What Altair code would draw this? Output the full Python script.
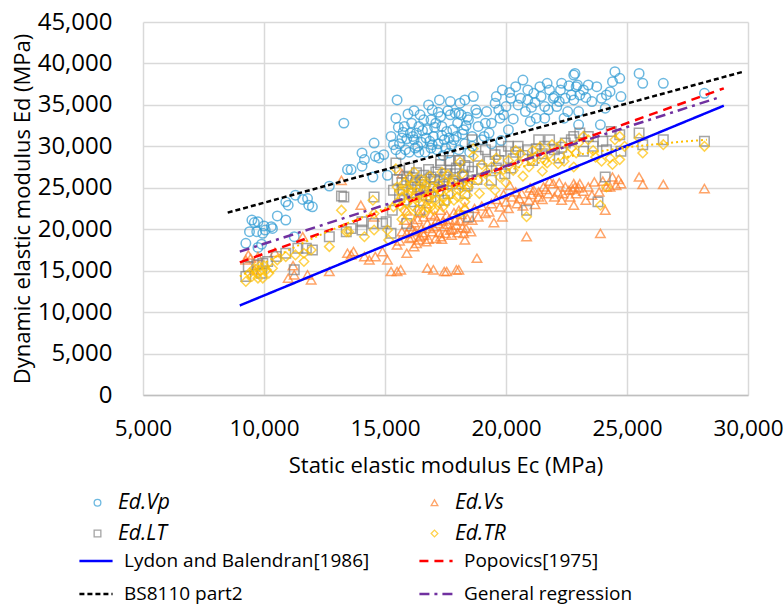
import altair as alt
import pandas as pd

# ---------------- data ----------------
VP = [(9500,21100),(9750,20900),(10000,20400),(10300,20300),(9400,19700),(9700,19700),(9950,19500),(9250,18300),
      (9750,17800),(9900,18200),(10350,20100),(10900,21100),(10550,21600),(11250,19100),(10900,23300),(11000,22900),
      (11300,24100),(11600,23600),(11800,23700),(11850,22900),(12000,22700),(12700,25200),(13450,27200),(13600,27200),
      (13300,32800),(10050,19900),(9600,20800),
      (14050,29200),(14150,28400),(14050,27600),(14550,30400),(14600,28800),(14500,26300),(14750,28600),(14950,29000),
      (15100,26500),(15250,31200),(15450,29600),(15500,35600),(15450,33400),(15800,32400),(15700,31000),(15850,29600),
      (16050,31600),(16200,30800),(16350,30000),(16600,33200),(16800,35000),(16750,32000),(16950,34400),(17000,31200),
      (17150,29600),(17300,33600),(17350,32400),(17450,30800),(17550,31800),(17700,35400),(17700,33800),(17650,29200),
      (17850,30800),(18000,32800),(18050,29600),(18100,35200),
      (15600,30300),(15900,30900),(16000,29300),(16100,32800),(16300,31600),(16400,29300),(16500,30500),(16700,31000),
      (16900,29800),(16900,33200),(17100,32800),(17200,30300),(17500,29800),(17600,34300),(17800,32000),(17900,34000),
      (18200,31500),(18300,30300),(18400,33500),(18600,30000),(18800,34000),(16200,34300),(16450,33800),(15350,30200),
      (15950,33900),(17250,35600),(18500,29300),(15650,29000),(16650,29300),(17400,28900),
      (15750,31700),(16150,31200),(16550,31900),(16850,30600),(17050,32300),(17350,31300),(17650,31000),(17950,31200),
      (16250,29800),(16950,30200),(17750,30100),(18350,32500),(15550,32300),(16400,32400),(17200,34100),(18150,33800),
      (18050,34000),(18250,32000),(18450,33200),(18650,36000),(18750,34400),(18600,31200),(18850,32400),(19000,30800),
      (19150,32800),(19300,31600),(19400,32800),(19550,35200),(19600,36000),(19750,33400),(19850,36800),(19700,34400),
      (20400,37200),(20500,35000),(20700,38000),(20800,34200),(20900,36800),(21000,33000),(21150,36400),(21250,33400),
      (21400,37200),(21450,36000),(21600,34800),(21750,34400),(21800,36800),(21950,35800),(22100,34800),(22250,36800),
      (22300,37600),(22450,35800),(22550,34200),(22700,36200),(22850,38800),(22900,37200),(23000,32600),(22800,38600),
      (22950,37400),(23050,36200),(23400,37400),(23550,35400),(23750,37200),(23950,35800),(24150,36200),(24100,34600),
      (24300,36600),(24400,37800),(24500,39000),(24700,38200),(24750,36000),(23900,32600),(25500,38800),(25650,37600),
      (26500,37600),(28200,36400),(23000,34200),
      (19100,31200),(19400,30300),(19900,33800),(20100,32000),(20200,35800),(20300,33300),(19200,34200),(20600,35800),
      (21200,35300),(22000,36000),(22600,37300),(23200,36800),(21700,37600),(22400,33400),(20900,35600),(21600,33400),
      (18300,35600),(19800,30700),(20000,34800),(20150,36500),(21050,34700),(22200,35400),(22800,35600),(23300,35900)]

VS = [(9350,16900),(9450,16500),(9750,16700),(10450,17200),(11600,19100),(11200,15600),(11000,14100),(11250,14500),
      (11800,14500),(11950,13900),(12700,14900),(13200,25900),(13450,17100),(13600,16900),(9250,16300),(9600,15100),
      (14000,22900),(14550,21500),(13700,17300),(14150,16700),(14350,16300),(14600,16700),(14900,17300),(15100,16300),
      (15250,14900),(15500,14900),(15650,15100),(15900,17100),(15500,18100),(15700,19700),(15800,21100),(16000,18900),
      (16050,20300),(16250,19700),(16400,18700),(16600,19300),(16750,20700),(16950,19700),(17150,21100),(17300,19100),
      (17450,20300),(17550,21700),(17700,19900),(17900,21100),(18050,22300),(16750,15300),(17000,15100),(17450,14900),
      (17550,14900),(17950,15100),(15700,26700),
      (15900,19500),(16100,19000),(16200,20800),(16300,18300),(16500,20100),(16600,21500),(16800,18800),(16900,21800),
      (17000,20300),(17100,18900),(17200,20700),(17300,22300),(17500,19500),(17600,20600),(17800,20000),(17850,22000),
      (18000,19600),(18100,21000),(18200,20200),(18300,22700),(16400,22000),(15900,22200),(16700,23100),(15600,18600),
      (16200,17900),
      (16150,19900),(16350,21200),(16550,19600),(16850,20100),(17050,21600),(17250,19600),(17400,21000),(17650,21200),
      (17950,20500),(18150,21800),(18400,21300),(16450,19100),(16700,18500),(17350,18800),(17750,19300),(18350,20100),
      (18050,15100),(18800,16500),(18300,18700),(18250,19500),(18550,19700),(18600,21100),(18850,21500),(19150,21900),
      (19400,23100),(19750,22700),(20150,25300),(20250,23900),(20450,23100),(20650,24300),(20850,19100),(20950,23500),
      (21150,24700),(21350,23900),(21550,25100),(21750,24300),(21950,25500),(22150,24500),(22300,23500),(22450,25100),
      (22650,23900),(22800,25500),(22900,24300),(19850,21500),
      (19000,22800),(19300,22100),(19600,23600),(19900,24200),(20100,22500),(20400,24500),(20700,22800),(21000,25000),
      (21200,23000),(21500,23600),(21800,25800),(22000,23900),(22200,25600),(22600,24700),(23000,25000),(19500,20800),
      (20000,23300),(18700,22500),(20550,23700),(21050,24200),(21650,24800),(22350,24300),(22750,24800),(21350,24500),
      (22850,25100),(23050,25500),(23400,25100),(23650,25700),(22800,22900),(23550,24100),(23850,24500),(24100,22300),
      (23900,19500),(24150,25100),(24400,26300),(24550,25300),(24750,25500),(25500,26300),(25650,25400),(26500,25400),
      (28200,24900),(24300,25100),(23200,24600),(24000,25800),(24650,26000),(23300,23500)]

LT = [(9250,14300),(9350,15500),(9700,15700),(9950,15900),(10150,16100),(10500,16700),(10900,17100),(11250,15100),
      (11400,17700),(11750,17700),(12000,17500),(12700,19100),(13200,24000),(13400,19700),(13600,20100),(9900,14700),
      (13300,23900),(14550,23900),(14050,20900),(14500,20700),(14900,20700),(15050,20900),(15250,19500),(14050,19900),
      (15450,28000),(15600,27100),(16050,25900),(16250,25500),(16450,24700),(16650,25700),(16900,26300),(17300,28300),
      (17450,26300),(17700,27100),(17900,26700),(18100,28300),(18050,25500),(15350,24700),(15300,22300),(15800,23500),
      (16900,23900),(17450,23500),(15900,20700),(16450,22300),
      (15600,24200),(15700,25600),(15900,26400),(16100,24300),(16300,26800),(16500,25900),(16700,24100),(16800,27200),
      (17000,25100),(17100,26900),(17200,24600),(17400,25400),(17600,24300),(17800,25800),(17950,27400),(18200,26400),
      (18400,25200),(15500,26000),(16200,23300),(17300,27800),(18600,27000),(18800,26000),(16000,27400),(17650,28300),
      (16350,25100),(16600,26500),(17050,26000),(17550,26700),(18300,27700),(15750,24800),(16150,26200),(17250,25900),
      (18050,28300),(18600,30800),(18450,27500),(18250,26300),(18850,28800),(19150,29600),(19550,29000),(19700,28300),
      (20100,30000),(20500,30000),(20900,29600),(21350,30800),(21600,30000),(22000,29600),(22450,30400),(22700,30800),
      (18450,21500),(20850,22300),(19400,25900),(19950,26700),(18300,24300),
      (19000,27300),(19300,28200),(19800,29400),(20300,28500),(20700,28900),(21100,28300),(21500,29100),(21800,30800),
      (22200,28600),(19600,27400),(20200,27400),(21250,29700),(22300,29900),(20400,29300),
      (23050,31600),(23400,31200),(23600,30000),(24350,31800),(24700,31400),(24750,29400),(24150,29600),(24100,26300),
      (23800,23300),(25500,31600),(25650,30200),(26500,30800),(28200,30600),(22800,31200),(23200,29400),(24000,30600)]

TR = [(9250,13700),(9400,14700),(9600,15300),(9800,15500),(9950,14100),(10100,15100),(10350,15300),(10550,16300),
      (10900,16700),(11300,16900),(11650,16100),(11650,17100),(11950,17500),(12700,17900),(13200,22300),(13400,19700),
      (9700,14700),(9750,14100),(9500,14300),(9850,15000),(10200,14700),(10000,15600),
      (14550,21900),(14500,23500),(13500,19700),(14150,19100),(14550,19900),(15100,19900),(15150,18700),(15450,27300),
      (15500,25100),(15700,23900),(15900,23100),(16050,24700),(16250,23900),(16450,23100),(16600,24700),(16800,23500),
      (17000,24300),(17200,25500),(17450,23900),(17650,25100),(17850,23500),(18050,24700),(17350,26900),(18100,28100),
      (15800,22300),(16350,22300),(16900,22700),(16050,21500),(15350,22700),
      (15600,24600),(15800,25600),(16000,26200),(16150,25300),(16300,24500),(16500,26000),(16700,25200),(16850,26400),
      (17100,23500),(17300,24600),(17500,25700),(17700,24200),(17900,26000),(18200,25500),(18400,24100),(15700,21200),
      (16600,22000),(17000,22300),(15500,23200),(16200,26900),(17600,26600),(16800,24000),(17400,22700),(18300,23300),
      (15650,22800),(15950,24200),(16150,22800),(16400,23700),(16550,25500),(16750,22600),(16950,25100),(17150,24900),
      (17250,23100),(17550,23300),(17750,25600),(18000,23900),(18150,25000),(18500,25600),(15900,25000),(16450,24300),
      (18650,29700),(18650,28800),(18200,26700),(18450,25100),(18850,25900),(19150,26700),(19400,27500),(19750,26300),
      (20100,28300),(20300,27100),(20600,29100),(20850,21500),(20950,27500),(21200,28700),(21400,29900),(21600,28300),
      (21800,29100),(22150,27900),(22300,30300),(22550,29100),(22800,27500),(18300,22300),(18100,21900),(19550,24700),
      (19000,27800),(19300,25400),(19600,28600),(19900,27200),(20400,29500),(20700,26400),(21100,29500),(21500,27000),
      (21900,30200),(22400,28200),(18900,24300),(20000,25600),(20500,28000),(21000,28400),(21700,28000),(22700,29800),
      (23000,30400),(23200,31200),(23400,30800),(23600,29500),(23950,28200),(24300,28600),(24400,27800),(24700,28400),
      (24500,30800),(24700,31200),(24150,25100),(23900,22900),(25650,29200),(25500,31000),(26500,30200),(28200,30000),
      (22900,29200),(23700,28700),(24900,30000)]

series_names = ["Ed.Vp", "Ed.Vs", "Ed.LT", "Ed.TR"]
series_data = [VP, VS, LT, TR]
series_colors = ["#2E9BD4", "#FF7F2A", "#7F7F7F", "#FFC000"]
series_shapes = ["circle", "triangle-up", "square", "diamond"]

line_names = ["Lydon and Balendran[1986]", "Popovics[1975]", "BS8110 part2", "General regression"]
line_ec = [[9000, 29000], [9000, 29000], [8500, 29800], [9000, 28800]]
line_ed = [[10800, 34900], [16000, 37000], [22000, 39000], [17300, 35900]]
line_colors = ["#0000FF", "#FF0000", "#000000", "#7030A0"]
line_dashes = [[1, 0], [9, 6], [5, 3], [10, 5, 3, 5]]

trend_ec = [9000, 10500, 12000, 13500, 15000, 17000, 19000, 21000, 23000, 25000, 27000, 28300]
trend_ed = [14300, 16700, 18900, 20800, 22500, 24500, 26300, 27800, 29000, 29900, 30500, 30800]

x_ticks = [5000, 10000, 15000, 20000, 25000, 30000]
y_ticks = [0, 5000, 10000, 15000, 20000, 25000, 30000, 35000, 40000, 45000]

# ---------------- tables ----------------
pts = pd.DataFrame(
    [{"ec": e, "ed": d, "series": n} for n, s in zip(series_names, series_data) for e, d in s]
)
pts["idx"] = range(len(pts))
lines = pd.DataFrame(
    [{"ec": e, "ed": d, "line": n} for n, es, ds in zip(line_names, line_ec, line_ed) for e, d in zip(es, ds)]
)
trend = pd.DataFrame({"ec": trend_ec, "ed": trend_ed})

FONT = "Open Sans"
xscale = alt.Scale(domain=[5000, 30000], nice=False)
yscale = alt.Scale(domain=[0, 45000], nice=False)

xaxis = alt.Axis(values=x_ticks, format=",.0f", title="Static elastic modulus Ec (MPa)",
                 grid=True, ticks=False, tickSize=0, labelPadding=22, labelFontSize=22.5,
                 labelFlush=False, labelOverlap=False,
                 titleFontSize=22, titleFontWeight="normal", titleY=70, titleBaseline="middle",
                 domainColor="#BFBFBF", domainWidth=1.5)
yaxis = alt.Axis(values=y_ticks, format=",.0f", title="Dynamic elastic modulus Ed (MPa)",
                 grid=True, ticks=False, tickSize=0, domain=False, labelPadding=31, labelFontSize=24,
                 labelFlush=False, labelOverlap=False,
                 titleFontSize=22, titleFontWeight="normal", titleX=-121, titleBaseline="middle")

points = alt.Chart(pts).mark_point(filled=False, strokeWidth=1.5, size=90).encode(
    x=alt.X("ec:Q", scale=xscale, axis=xaxis),
    y=alt.Y("ed:Q", scale=yscale, axis=yaxis),
    stroke=alt.Stroke("series:N", scale=alt.Scale(domain=series_names, range=series_colors),
                      legend=alt.Legend(title=None, orient="none", legendX=-56, legendY=470,
                                        direction="horizontal", columns=2, columnPadding=254,
                                        rowPadding=9, labelFontSize=21, labelFontStyle="italic",
                                        labelOffset=10, labelLimit=400,
                                        symbolSize=45, symbolStrokeWidth=1.3)),
    shape=alt.Shape("series:N", scale=alt.Scale(domain=series_names, range=series_shapes)),
    order=alt.Order("idx:Q"),
)

reflines = alt.Chart(lines).mark_line(strokeWidth=2.5).encode(
    x="ec:Q",
    y="ed:Q",
    color=alt.Color("line:N", scale=alt.Scale(domain=line_names, range=line_colors),
                    legend=alt.Legend(title=None, orient="none", legendX=-65, legendY=521,
                                      direction="horizontal", columns=2, columnPadding=44,
                                      rowPadding=5, labelFontSize=19, labelOffset=10, labelLimit=400,
                                      symbolType="stroke", symbolSize=1100, symbolStrokeWidth=2.5)),
    strokeDash=alt.StrokeDash("line:N", scale=alt.Scale(domain=line_names, range=line_dashes)),
)

trendline = alt.Chart(trend).mark_line(strokeWidth=2, strokeDash=[2, 3], color="#FFC000").encode(
    x="ec:Q", y="ed:Q"
)

chart = alt.layer(points, reflines, trendline).properties(
    width=605, height=373,
    padding={"left": 143, "top": 22, "right": 35, "bottom": 210},
    autosize=alt.AutoSizeParams(type="none"),
).configure(
    font=FONT,
).configure_axis(
    labelFont=FONT, titleFont=FONT, labelColor="#000000", titleColor="#000000",
    gridColor="#D9D9D9", gridWidth=1.5,
).configure_legend(
    labelFont=FONT, labelColor="#000000",
).configure_view(stroke=None)

chart.save("out.html", embed_options={"renderer": "svg", "actions": False})
